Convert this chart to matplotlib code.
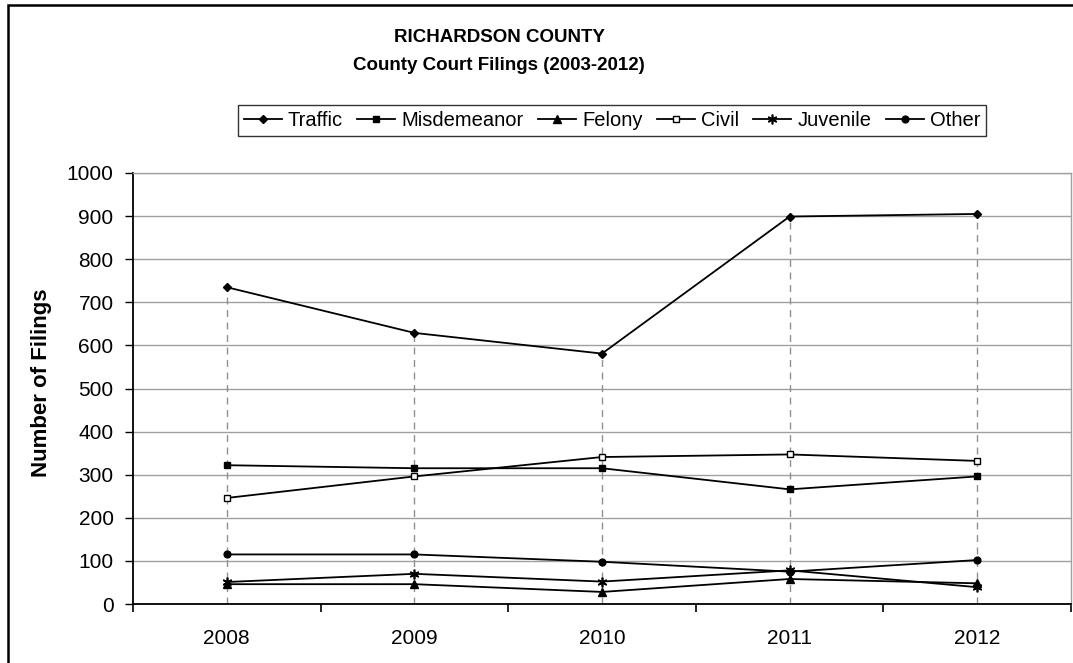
#!/usr/bin/env python3

import matplotlib
matplotlib.use("Agg")
from matplotlib import pyplot as plt
from matplotlib.patches import Rectangle

# Data
years = ["2008", "2009", "2010", "2011", "2012"]
traffic = [735, 629, 581, 899, 905]
misdemeanor = [322, 315, 315, 266, 296]
felony = [46, 46, 28, 58, 48]
civil = [246, 296, 341, 347, 332]
juvenile = [51, 70, 52, 78, 39]
other = [115, 115, 98, 75, 102]

plt.rcParams["font.family"] = ["Liberation Sans", "DejaVu Sans"]

W, H = 1073, 663
fig = plt.figure(figsize=(W / 100, H / 100), dpi=100, facecolor="white")

# outer frame (only top and left edges show)
fig.patches.append(Rectangle((8 / W, -0.1), 1.2, 1 - 5 / H + 0.1,
                             transform=fig.transFigure, fill=False,
                             edgecolor="black", linewidth=1.8))

ax = fig.add_axes([133 / W, (H - 604) / H, (1071 - 133) / W, (604 - 173) / H])
x = list(range(len(years)))

# drop lines from the highest series down to the axis
ax.vlines(x, 0, traffic, colors="#909090", linestyles=(0, (5, 4)),
          linewidth=1.0, zorder=1)

series = [
    ("Traffic", traffic, dict(marker="D", markersize=6, mfc="black")),
    ("Misdemeanor", misdemeanor, dict(marker="s", markersize=7, mfc="black")),
    ("Felony", felony, dict(marker="^", markersize=7.5, mfc="black")),
    ("Civil", civil, dict(marker="s", markersize=7, mfc="white")),
    ("Juvenile", juvenile, dict(marker=(6, 2, 0), markersize=10, mew=1.2)),
    ("Other", other, dict(marker="o", markersize=7, mfc="black")),
]
for name, vals, style in series:
    ax.plot(x, vals, color="black", linewidth=1.3, mec="black", label=name,
            zorder=3, **style)

ax.set_xlim(-0.5, len(years) - 0.5)
ax.set_ylim(0, 1000)
ax.set_yticks(range(0, 1001, 100))
ax.yaxis.grid(True, color="#a0a0a0", linewidth=1.0)
ax.set_axisbelow(True)

ax.set_xticks(x)
ax.set_xticklabels(years)
ax.set_xticks([i - 0.5 for i in range(len(years) + 1)], minor=True)
ax.tick_params(axis="x", which="major", length=0, pad=18, labelsize=15)
ax.tick_params(axis="x", which="minor", length=6, width=1.2, direction="out")
ax.tick_params(axis="y", length=6, width=1.0, direction="out", pad=8,
               labelsize=15)

for side in ["left", "bottom"]:
    ax.spines[side].set_color("black")
    ax.spines[side].set_linewidth(1.3)
for side in ["top", "right"]:
    ax.spines[side].set_color("#a0a0a0")
    ax.spines[side].set_linewidth(1.0)

fig.text(42 / W, 1 - 383 / H, "Number of Filings", rotation=90,
         ha="center", va="center", fontsize=16, fontweight="bold")

fig.text(499 / W, 1 - 38 / H, "RICHARDSON COUNTY", ha="center",
         va="center", fontsize=13.5, fontweight="bold")
fig.text(499 / W, 1 - 66 / H, "County Court Filings (2003-2012)",
         ha="center", va="center", fontsize=13.5, fontweight="bold")

handles, labels = ax.get_legend_handles_labels()
for h in handles:
    h.set_markersize(h.get_markersize() * 0.7)
leg = fig.legend(handles, labels, loc="center", ncol=6,
                 bbox_to_anchor=(612 / W, 1 - 120.5 / H), fontsize=14.5,
                 frameon=True, fancybox=False, handlelength=1.9,
                 handletextpad=0.3, columnspacing=0.7, borderpad=0.3,
                 borderaxespad=0)
leg.get_frame().set_edgecolor("black")
leg.get_frame().set_linewidth(1.0)

fig.savefig("out.png", dpi=100, facecolor="white")
